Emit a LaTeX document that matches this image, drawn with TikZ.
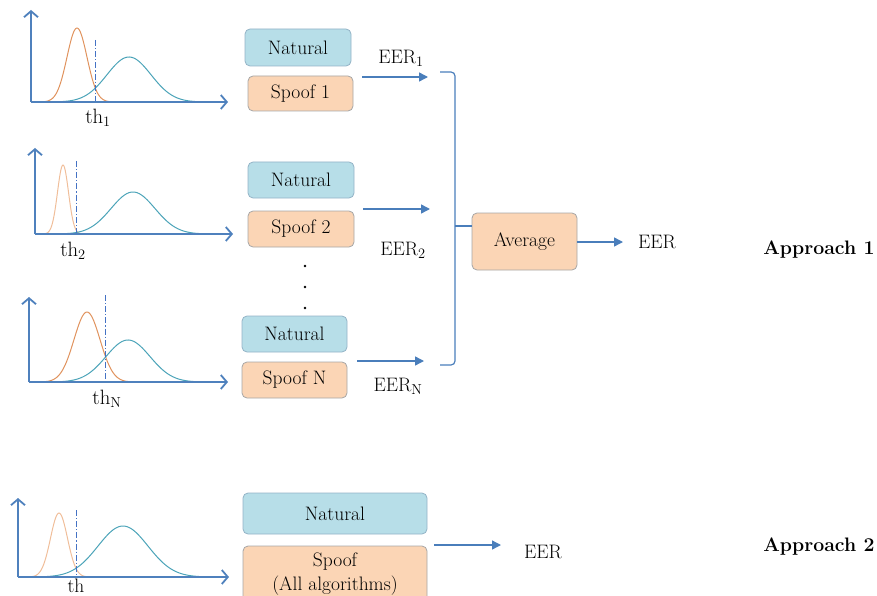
\documentclass[tikz,border=0pt]{standalone}
\usetikzlibrary{arrows.meta}
\definecolor{axisblue}{HTML}{4F81BD}
\definecolor{flowblue}{HTML}{4A7EBB}
\definecolor{natfill}{HTML}{B7DEE8}
\definecolor{natedge}{HTML}{93B3C6}
\definecolor{spfill}{HTML}{FBD5B5}
\definecolor{spedge}{HTML}{A6A6A6}
\definecolor{spoofcurve}{HTML}{E0935E}
\definecolor{spoofcurvelight}{HTML}{F0BE9A}
\definecolor{natcurve}{HTML}{4BA3B8}
\definecolor{thblue}{HTML}{4472C4}
\tikzset{
  txt/.style={font=\fontsize{19.5}{23}\selectfont, inner sep=0pt},
  box/.style={txt, rounded corners=5pt, line width=0.8pt, align=center},
  natbox/.style={box, fill=natfill, draw=natedge},
  spbox/.style={box, fill=spfill, draw=spedge},
  axis/.style={draw=axisblue, line width=1.8pt, -{Straight Barb[length=6pt,width=14pt]}},
  flow/.style={draw=flowblue, line width=1.4pt, -{Triangle[length=9pt,width=9pt]}},
  thline/.style={draw=thblue, line width=0.9pt, dash pattern=on 6pt off 2pt on 1.2pt off 2pt},
  spcurve/.style={draw=spoofcurve, line width=1pt},
  spcurvelt/.style={draw=spoofcurvelight, line width=1pt},
  natc/.style={draw=natcurve, line width=1pt},
  brace/.style={draw=flowblue, line width=1.2pt, rounded corners=4pt},
}
\begin{document}
\begin{tikzpicture}[x=1pt,y=-1pt]
\useasboundingbox (0,0) rectangle (877,596);
\clip (0,0) rectangle (877,596);

% ---- score distributions, one panel per spoofing algorithm ----
% panel 1
\draw[spcurve] plot[domain=42:112,samples=70,smooth] (\x,{102-74*exp(-(\x-77)*(\x-77)/200)});
\draw[natc] plot[domain=55:205,samples=90,smooth] (\x,{102-45*exp(-(\x-129)*(\x-129)/968)});
\draw[thline] (95,40) -- (95,102);
\draw[axis] (31,102) -- (31,10);
\draw[axis] (31,102) -- (228,102);
\node[txt] (th1) at (98,118) {$\mathrm{th}_1$};

% panel 2
\draw[spcurvelt] plot[domain=44:82,samples=60,smooth] (\x,{234-69*exp(-(\x-63)*(\x-63)/60.5)});
\draw[natc] plot[domain=58:208,samples=90,smooth] (\x,{234-42*exp(-(\x-133)*(\x-133)/968)});
\draw[thline] (76,161) -- (76,234);
\draw[axis] (35,234) -- (35,148);
\draw[axis] (35,234) -- (233,234);
\node[txt] (th2) at (73,251) {$\mathrm{th}_2$};

% panel N
\draw[spcurve] plot[domain=44:130,samples=70,smooth] (\x,{382-70*exp(-(\x-87)*(\x-87)/338)});
\draw[natc] plot[domain=55:200,samples=90,smooth] (\x,{382-42*exp(-(\x-128)*(\x-128)/968)});
\draw[thline] (105,295) -- (105,382);
\draw[axis] (29,382) -- (29,297);
\draw[axis] (29,382) -- (228,382);
\node[txt] (thN) at (107,399) {$\mathrm{th}_\mathrm{N}$};

% pooled panel
\draw[spcurvelt] plot[domain=30:88,samples=60,smooth] (\x,{577-64*exp(-(\x-59)*(\x-59)/144.5)});
\draw[natc] plot[domain=38:210,samples=90,smooth] (\x,{577-51*exp(-(\x-123)*(\x-123)/1250)});
\draw[thline] (76,510) -- (76,577);
\draw[axis] (18,577) -- (18,498);
\draw[axis] (18,577) -- (229,577);
\node[txt,anchor=base] (th) at (76,592) {th};

% ---- Approach 1: one EER per algorithm, then averaged ----
\node[natbox, minimum width=106pt, minimum height=37pt] (nat1) at (298,47.5) {Natural};
\node[spbox,  minimum width=105pt, minimum height=35pt] (sp1)  at (300.5,93.5) {Spoof 1};
\node[natbox, minimum width=106pt, minimum height=36pt] (nat2) at (301,180) {Natural};
\node[spbox,  minimum width=106pt, minimum height=36pt] (sp2)  at (301,229) {Spoof 2};
\node[natbox, minimum width=105pt, minimum height=36pt] (natN) at (294.5,334) {Natural};
\node[spbox,  minimum width=105pt, minimum height=36pt] (spN)  at (294.5,380) {Spoof N};

\foreach \y [count=\i] in {266,287,308} \fill (305,\y) circle (1.3pt) coordinate (dot\i);

\coordinate (e1s) at (362,77);  \coordinate (e1e) at (428,77);
\coordinate (e2s) at (363,209); \coordinate (e2e) at (430,209);
\coordinate (eNs) at (357,361); \coordinate (eNe) at (424,361);
\draw[flow] (e1s) -- (e1e);
\draw[flow] (e2s) -- (e2e);
\draw[flow] (eNs) -- (eNe);
\node[txt] (eer1) at (401,58)  {EER$_1$};
\node[txt] (eer2) at (403,250) {EER$_2$};
\node[txt] (eerN) at (398,386) {EER$_\mathrm{N}$};

\node[spbox, minimum width=105pt, minimum height=57pt] (avg) at (524.5,241.5) {Average};
\coordinate (btop) at (440,72);
\coordinate (bbot) at (440,365);
\coordinate (btip) at (455,226);
\draw[brace] (btop) -| (btip);
\draw[brace] (bbot) -| (btip);
\draw[draw=flowblue, line width=1.2pt] (btip) -- (avg.west |- btip);

\node[txt] (eerA) at (657,242) {EER};
\coordinate (aE) at (623,242);
\draw[flow] (avg.east |- aE) -- (aE);

\node[txt] (ap1) at (819,250) {\bfseries Approach 1};

% ---- Approach 2: all algorithms pooled ----
\node[natbox, minimum width=184pt, minimum height=41pt] (natP) at (335,513.5) {Natural};
\node[spbox,  minimum width=184pt, minimum height=56pt] (spP)  at (335,574) {Spoof\\[1pt](All algorithms)};
\coordinate (pS) at (434,545); \coordinate (pE) at (501,545);
\draw[flow] (pS) -- (pE);
\node[txt] (eerP) at (543,552) {EER};
\node[txt] (ap2) at (819,547) {\bfseries Approach 2};
\end{tikzpicture}
\end{document}
